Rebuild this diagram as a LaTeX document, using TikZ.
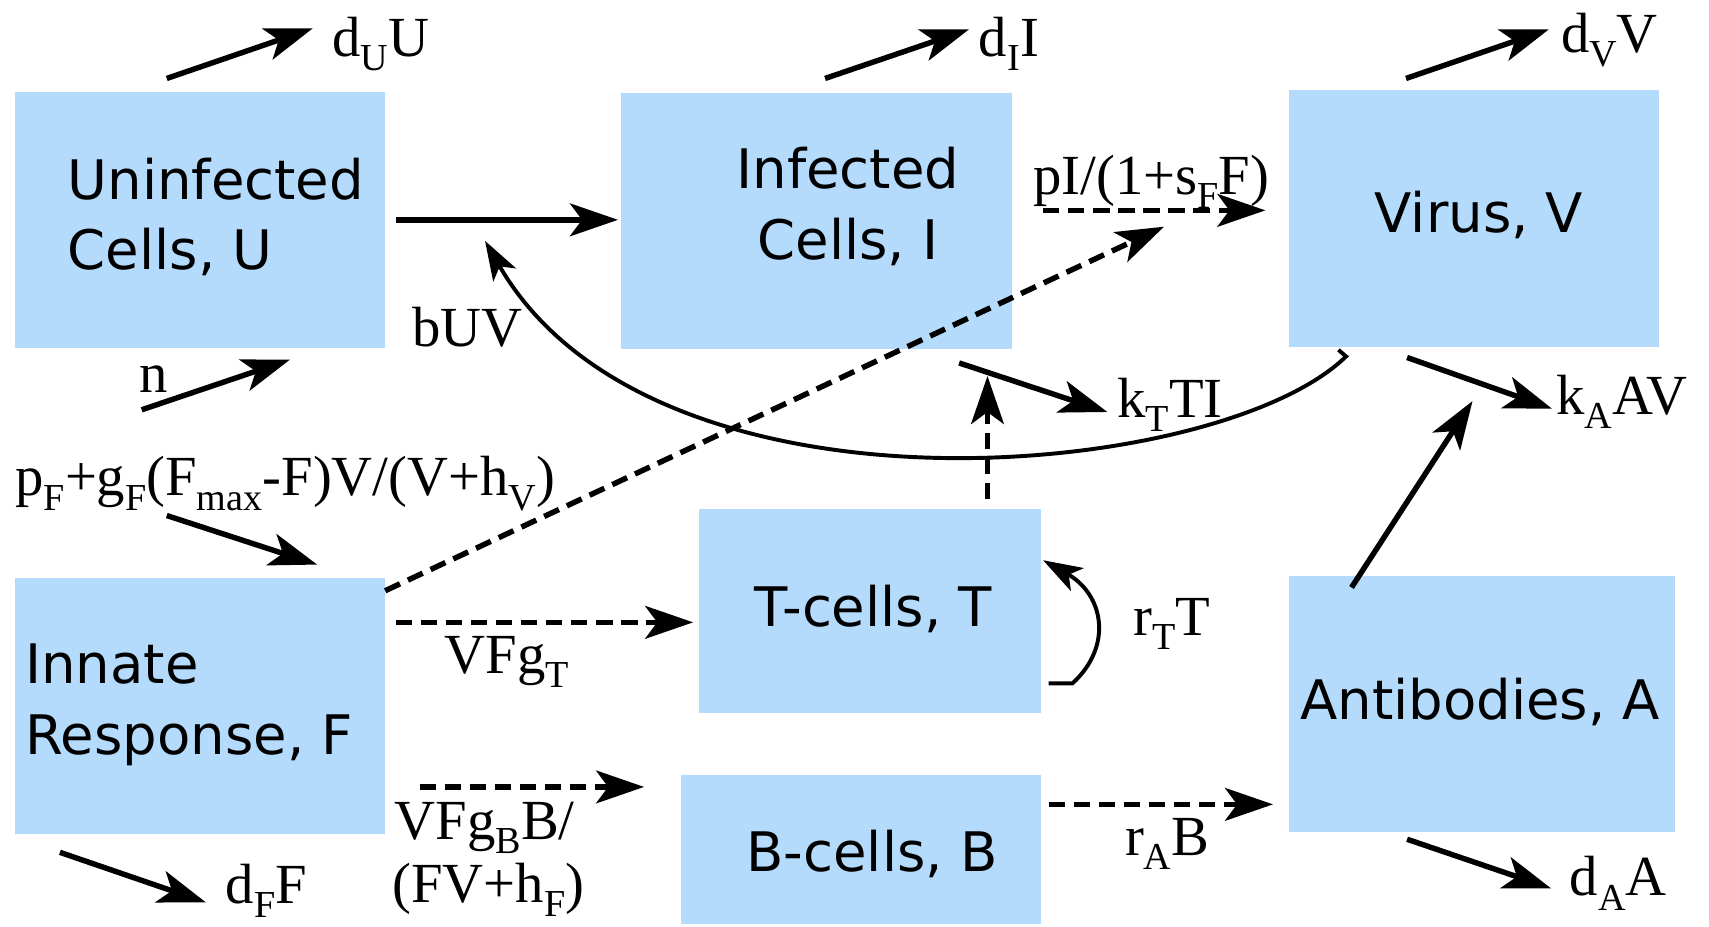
\documentclass[tikz,border=0pt]{standalone}
\usepackage{fontspec}
\setmainfont{Liberation Serif}
\newfontfamily\boxfont{DejaVu Sans}
\usetikzlibrary{arrows.meta}
\definecolor{cellblue}{RGB}{180,219,252}
% lowered subscript in the rate labels
\newcommand\lo[1]{\raisebox{-0.25em}{\fontsize{35}{35}\selectfont #1}}

\begin{document}
\begin{tikzpicture}[x=1pt,y=-1pt,
  compartment/.style={fill=cellblue, draw=none, inner sep=0pt, anchor=north west},
  boxtext/.style={font=\boxfont\fontsize{50}{60}\selectfont, inner sep=0pt},
  rate/.style={font=\fontsize{52}{62}\selectfont, inner sep=0pt, anchor=base west},
  flow/.style={line width=5pt, -{Stealth[length=44pt,width=30pt,inset=11pt]}},
  signal/.style={flow, dash pattern=on 15pt off 8pt},
  curvearrow/.style={line width=3.6pt, -{Stealth[length=36pt,width=24pt,inset=9pt]}}
]
\useasboundingbox (0,0) rectangle (1568,850);

% compartments
\node[compartment, minimum width=339pt, minimum height=235pt] (U) at (14,84) {};
\node[compartment, minimum width=358pt, minimum height=235pt] (I) at (570,85) {};
\node[compartment, minimum width=340pt, minimum height=236pt] (V) at (1182,82) {};
\node[compartment, minimum width=339pt, minimum height=235pt] (F) at (14,530) {};
\node[compartment, minimum width=314pt, minimum height=187pt] (T) at (641,467) {};
\node[compartment, minimum width=330pt, minimum height=137pt] (B) at (625,711) {};
\node[compartment, minimum width=355pt, minimum height=235pt] (A) at (1182,528) {};

% compartment names
\node[boxtext, anchor=base west] (U1) at (62,183) {Uninfected};
\node[boxtext, anchor=base west] (U2) at (62,247) {Cells, U};
\node[boxtext, anchor=base] (I1) at (778,173) {Infected};
\node[boxtext, anchor=base] (I2) at (778,238) {Cells, I};
\node[boxtext, anchor=base] (V1) at (1357,213) {Virus, V};
\node[boxtext, anchor=base west] (F1) at (23,627) {Innate};
\node[boxtext, anchor=base west] (F2) at (23,692) {Response, F};
\node[boxtext, anchor=base] (T1) at (801,575) {T-cells, T};
\node[boxtext, anchor=base] (B1) at (800,800) {B-cells, B};
\node[boxtext, anchor=base] (A1) at (1358,660) {Antibodies, A};

% rate labels
\node[rate] (dU) at (305,52) {d\lo{U}U};
\node[rate] (dI) at (898,52) {d\lo{I}I};
\node[rate] (dV) at (1432,48) {d\lo{V}V};
\node[rate] (nU) at (128,360) {n};
\node[rate] (bUV) at (378,318) {bUV};
\node[rate] (pI) at (948,178) {pI/(1+s\lo{F}F)};
\node[rate] (kT) at (1025,383) {k\lo{T}TI};
\node[rate] (kA) at (1428,380) {k\lo{A}AV};
\node[rate] (pF) at (14,455) {p\lo{F}+g\lo{F}(F\lo{max}-F)V/(V+h\lo{V})};
\node[rate] (gT) at (408,618) {VFg\lo{T}};
\node[rate] (rT) at (1040,583) {r\lo{T}T};
\node[rate] (gB1) at (362,770) {VFg\lo{B}B/};
\node[rate] (gB2) at (360,828) {(FV+h\lo{F})};
\node[rate] (dF) at (207,829) {d\lo{F}F};
\node[rate] (rA) at (1032,785) {r\lo{A}B};
\node[rate] (dA) at (1440,822) {d\lo{A}A};

% arrow end points
\coordinate (dUs) at (153,72);   \coordinate (dUe) at (287,26);
\coordinate (dIs) at (757,72);   \coordinate (dIe) at (889,27);
\coordinate (dVs) at (1290,72);  \coordinate (dVe) at (1421,27);
\coordinate (ns)  at (130,376);  \coordinate (ne)  at (266,330);
\coordinate (pIs) at (957,193);  \coordinate (pIe) at (1161,193);
\coordinate (kAs) at (1291,328); \coordinate (kAe) at (1424,375);
\coordinate (kTs) at (880,333);  \coordinate (kTe) at (1016,378);
\coordinate (kTm) at (906,345);
\coordinate (pFs) at (153,473);  \coordinate (pFe) at (291,518);
\coordinate (dFs) at (55,782);   \coordinate (dFe) at (189,828);
\coordinate (pIm) at (1068,208);
\coordinate (FTs) at (363,571);  \coordinate (FTe) at (636,571);
\coordinate (FBs) at (385,722);  \coordinate (FBe) at (591,722);
\coordinate (BAs) at (962,738);  \coordinate (BAe) at (1168,738);
\coordinate (kAm) at (1351,368);
\coordinate (dAs) at (1291,770); \coordinate (dAe) at (1423,815);
\coordinate (Vb)  at (1235,327); \coordinate (Vt)  at (1228,321);
\coordinate (Ub)  at (445,221);
\coordinate (Tl)  at (962,627);  \coordinate (Tk)  at (984,627);
\coordinate (Tu)  at (957,514);

% loss and source terms
\draw[flow] (dUs) -- (dUe);
\draw[flow] (dIs) -- (dIe);
\draw[flow] (dVs) -- (dVe);
\draw[flow] (ns) -- (ne);
\draw[flow] (kAs) -- (kAe);
\draw[flow] (kTs) -- (kTe);
\draw[flow] (pFs) -- (pFe);
\draw[flow] (dFs) -- (dFe);
\draw[flow] (dAs) -- (dAe);

% infection
\draw[flow] ([xshift=10pt]U.east) -- ([xshift=-3pt]U.east -| I.west);
\draw[curvearrow] (Vt) -- (Vb) .. controls (1120,440) and (600,490) .. (Ub);

% production and activation
\draw[signal] (F.north east) ++(0,12) -- (pIm);
\draw[signal] (pIs) -- (pIe);
\draw[signal] (T.north -| kTm) ++(0,-9) -- (kTm);
\draw[signal] (FTs) -- (FTe);
\draw[signal] (FBs) -- (FBe);
\draw[signal] (BAs) -- (BAe);
\draw[flow] ([xshift=58pt,yshift=-11pt]A.north west) -- (kAm);

% T-cell proliferation
\draw[curvearrow] (Tl) -- (Tk) .. controls (1022,592) and (1012,545) .. (Tu);
\end{tikzpicture}
\end{document}
